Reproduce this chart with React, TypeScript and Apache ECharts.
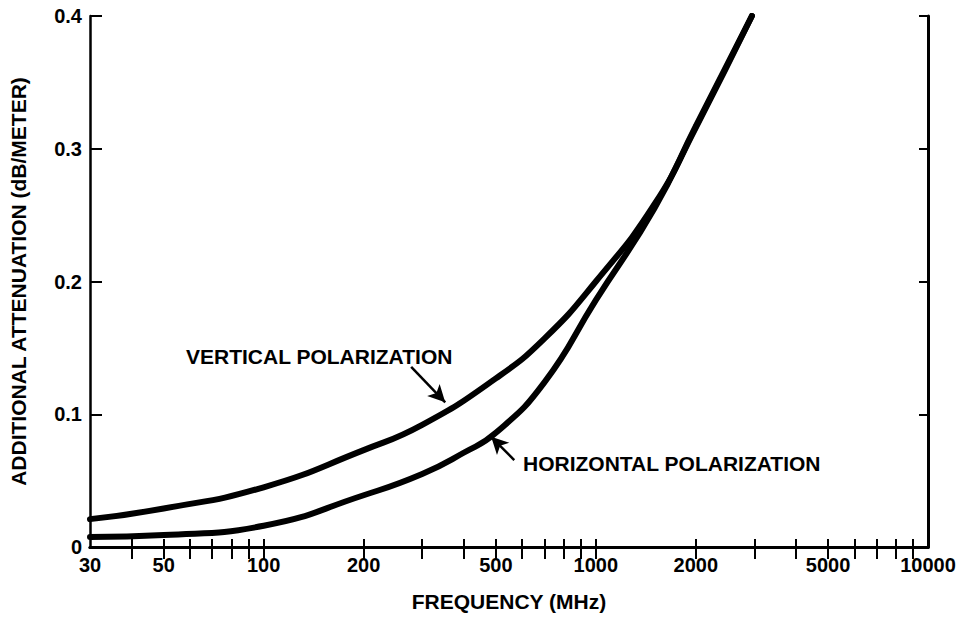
import React, { useEffect, useRef } from "react";
import * as echarts from "echarts";

// Frequencies (MHz) and additional attenuation (dB/m)
const freqVertical = [30, 50, 100, 200, 300, 500, 700, 1000, 1500, 2000, 2950];
const attVertical = [0.021, 0.029, 0.045, 0.073, 0.092, 0.127, 0.157, 0.2, 0.258, 0.316, 0.4];

const freqHorizontal = [30, 50, 100, 200, 300, 400, 500, 700, 1000, 1500, 2000, 2950];
const attHorizontal = [0.0075, 0.009, 0.016, 0.039, 0.055, 0.071, 0.086, 0.124, 0.186, 0.255, 0.317, 0.4];

const xLabelValues = [30, 50, 100, 200, 500, 1000, 2000, 5000, 10000];
const xTickValues = [
  40, 50, 60, 70, 80, 90, 100, 200, 300, 400, 500, 600, 700, 800, 900, 1000,
  2000, 3000, 4000, 5000, 6000, 7000, 8000, 9000,
];
const yTicks = [0, 0.1, 0.2, 0.3, 0.4];

// annotation arrows: [fromFreq, fromAtt, toFreq, toAtt]
const arrowVertical = [278, 0.1356, 352, 0.109];
const arrowHorizontal = [568, 0.0655, 484, 0.083];

const FONT = '"Liberation Sans", Arial, Helvetica, sans-serif';
const lg = (v: number) => Math.log10(v);

export default function App() {
  const ref = useRef<HTMLDivElement>(null);
  useEffect(() => {
    if (!ref.current) return;
    const chart = echarts.init(ref.current, undefined, { renderer: "svg" });
    const xMin = lg(30);
    const xMax = lg(10000);
    const labelFmt = (v: number) => String(Math.round(Math.pow(10, v)));
    const arrowLine = (a: number[]) => [
      { coord: [lg(a[0]), a[1]] },
      { coord: [lg(a[2]), a[3]] },
    ];
    chart.setOption({
      animation: false,
      backgroundColor: "#ffffff",
      textStyle: { fontFamily: FONT },
      grid: { left: 88, right: 33, top: 16, bottom: 71, containLabel: false },
      xAxis: [
        {
          type: "value",
          position: "bottom",
          min: xMin,
          max: xMax,
          name: "FREQUENCY (MHz)",
          nameLocation: "middle",
          nameGap: 44,
          nameTextStyle: { fontFamily: FONT, fontWeight: "bold", fontSize: 21, color: "#000" },
          axisLine: { show: true, lineStyle: { color: "#000", width: 3 } },
          axisTick: {
            show: true,
            inside: true,
            length: 8,
            customValues: xTickValues.map(lg),
            lineStyle: { color: "#000", width: 2 },
          },
          axisLabel: {
            show: true,
            customValues: xLabelValues.map(lg),
            formatter: labelFmt,
            margin: 8,
            fontFamily: FONT,
            fontWeight: "bold",
            fontSize: 20,
            color: "#000",
          },
          splitLine: { show: false },
        },
        {
          type: "value",
          position: "top",
          min: xMin,
          max: xMax,
          axisLine: { show: true, lineStyle: { color: "#000", width: 3 } },
          axisTick: {
            show: true,
            inside: true,
            length: 12,
            customValues: xTickValues.map(lg),
            lineStyle: { color: "#000", width: 2 },
          },
          axisLabel: { show: false },
          splitLine: { show: false },
        },
      ],
      yAxis: [
        {
          type: "value",
          position: "left",
          min: 0,
          max: 0.4,
          interval: 0.1,
          name: "ADDITIONAL ATTENUATION (dB/METER)",
          nameLocation: "middle",
          nameRotate: 90,
          nameGap: 61,
          nameTextStyle: { fontFamily: FONT, fontWeight: "bold", fontSize: 21, color: "#000" },
          axisLine: { show: true, lineStyle: { color: "#000", width: 2.5 } },
          axisTick: { show: true, inside: true, length: 12, lineStyle: { color: "#000", width: 2 } },
          axisLabel: {
            show: true,
            margin: 8,
            formatter: (v: number) => (v === 0 ? "0" : v.toFixed(1)),
            customValues: yTicks,
            fontFamily: FONT,
            fontWeight: "bold",
            fontSize: 20,
            color: "#000",
          },
          splitLine: { show: false },
        },
        {
          type: "value",
          position: "right",
          min: 0,
          max: 0.4,
          interval: 0.1,
          axisLine: { show: true, lineStyle: { color: "#000", width: 3 } },
          axisTick: { show: true, inside: true, length: 9, lineStyle: { color: "#000", width: 2 } },
          axisLabel: { show: false },
          splitLine: { show: false },
        },
      ],
      series: [
        {
          name: "VERTICAL POLARIZATION",
          type: "line",
          xAxisIndex: 0,
          yAxisIndex: 0,
          data: freqVertical.map((f, i) => [lg(f), attVertical[i]]),
          smooth: 0.5,
          showSymbol: false,
          symbol: "none",
          lineStyle: { color: "#000", width: 6, cap: "round" },
          markLine: {
            silent: true,
            symbol: ["none", "arrow"],
            symbolSize: [13, 17],
            label: { show: false },
            lineStyle: { color: "#000", width: 2.5, type: "solid" },
            data: [arrowLine(arrowVertical), arrowLine(arrowHorizontal)],
          },
        },
        {
          name: "HORIZONTAL POLARIZATION",
          type: "line",
          xAxisIndex: 0,
          yAxisIndex: 0,
          data: freqHorizontal.map((f, i) => [lg(f), attHorizontal[i]]),
          smooth: 0.5,
          showSymbol: false,
          symbol: "none",
          lineStyle: { color: "#000", width: 6, cap: "round" },
        },
      ],
      graphic: [
        {
          type: "text",
          left: 186,
          top: 346,
          style: {
            text: "VERTICAL POLARIZATION",
            fontFamily: FONT,
            fontWeight: "bold",
            fontSize: 21,
            fill: "#000",
          },
        },
        {
          type: "text",
          left: 523,
          top: 453,
          style: {
            text: "HORIZONTAL POLARIZATION",
            fontFamily: FONT,
            fontWeight: "bold",
            fontSize: 21,
            fill: "#000",
          },
        },
      ],
    });
    return () => chart.dispose();
  }, []);
  return (
    <div
      ref={ref}
      style={{ position: "fixed", left: 0, top: 0, width: 961, height: 618, background: "#fff" }}
    />
  );
}
